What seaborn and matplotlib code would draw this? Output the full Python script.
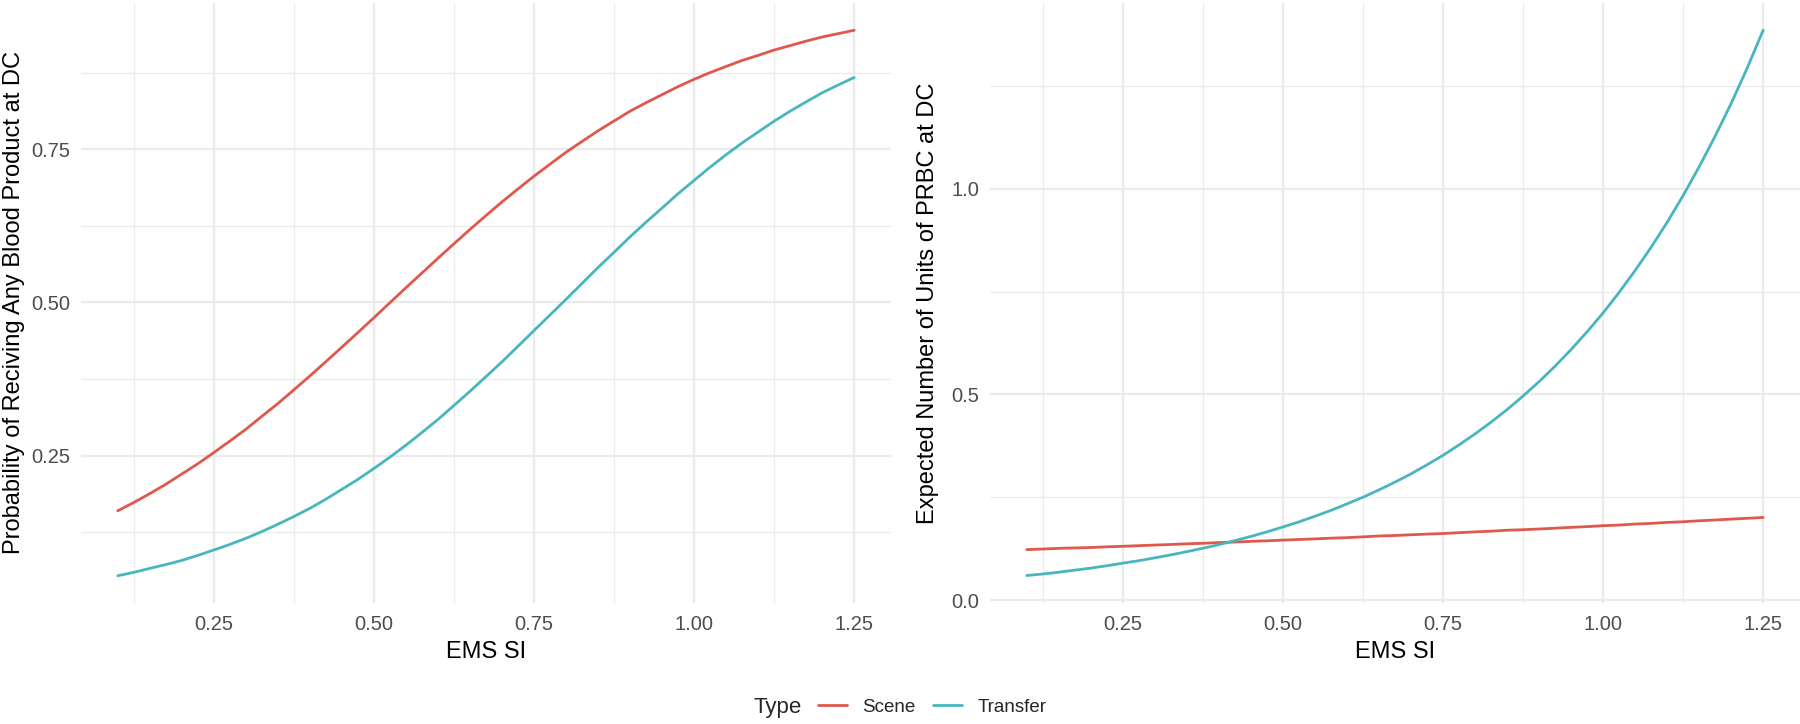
import numpy as np
import pandas as pd
import matplotlib
matplotlib.use("Agg")
import matplotlib.pyplot as plt
from matplotlib.ticker import FixedLocator, FormatStrFormatter
from matplotlib.lines import Line2D
import seaborn as sns

# ---------------- data ----------------
ems_si = [0.100, 0.125, 0.150, 0.175, 0.200, 0.225, 0.250, 0.275, 0.300, 0.325,
          0.350, 0.375, 0.400, 0.425, 0.450, 0.475, 0.500, 0.525, 0.550, 0.575,
          0.600, 0.625, 0.650, 0.675, 0.700, 0.725, 0.750, 0.775, 0.800, 0.825,
          0.850, 0.875, 0.900, 0.925, 0.950, 0.975, 1.000, 1.025, 1.050, 1.075,
          1.100, 1.125, 1.150, 1.175, 1.200, 1.225, 1.250]

prob_scene = [0.160, 0.1735, 0.188, 0.2033, 0.220, 0.2367, 0.255, 0.2737, 0.293, 0.3141,
              0.335, 0.3574, 0.380, 0.4033, 0.427, 0.4509, 0.475, 0.4995, 0.524, 0.5480,
              0.572, 0.5957, 0.619, 0.6417, 0.664, 0.6851, 0.706, 0.7255, 0.745, 0.7626,
              0.780, 0.7960, 0.812, 0.8258, 0.839, 0.8521, 0.864, 0.8750, 0.885, 0.8948,
              0.903, 0.9118, 0.919, 0.9263, 0.933, 0.9385, 0.944]
prob_transfer = [0.054, 0.0595, 0.066, 0.0722, 0.079, 0.0872, 0.096, 0.1051, 0.115, 0.1261,
                 0.138, 0.1506, 0.164, 0.1789, 0.195, 0.2112, 0.229, 0.2475, 0.267, 0.2878,
                 0.309, 0.3318, 0.355, 0.3789, 0.403, 0.4285, 0.454, 0.4795, 0.505, 0.5310,
                 0.557, 0.5818, 0.607, 0.6309, 0.654, 0.6774, 0.699, 0.7207, 0.741, 0.7602,
                 0.778, 0.7957, 0.812, 0.8272, 0.842, 0.8547, 0.867]

units_scene = [0.123, 0.1243, 0.126, 0.127, 0.128, 0.1297, 0.131, 0.1325, 0.134, 0.1354,
               0.137, 0.1383, 0.140, 0.1413, 0.143, 0.1443, 0.146, 0.1475, 0.149, 0.1507,
               0.152, 0.1539, 0.156, 0.1572, 0.159, 0.1606, 0.162, 0.1641, 0.166, 0.1677,
               0.170, 0.1713, 0.173, 0.1750, 0.177, 0.1788, 0.181, 0.1826, 0.185, 0.1866,
               0.189, 0.1906, 0.193, 0.1948, 0.197, 0.1990, 0.201]
units_transfer = [0.060, 0.0637, 0.068, 0.0730, 0.078, 0.0837, 0.090, 0.0960, 0.103, 0.1101,
                  0.118, 0.1262, 0.135, 0.1447, 0.155, 0.1660, 0.178, 0.1903, 0.204, 0.2182,
                  0.234, 0.2502, 0.268, 0.2869, 0.307, 0.3290, 0.352, 0.3773, 0.404, 0.4326,
                  0.463, 0.4961, 0.531, 0.5687, 0.609, 0.6522, 0.698, 0.7478, 0.801, 0.8575,
                  0.918, 0.9832, 1.053, 1.1275, 1.207, 1.2928, 1.385]

types = ["Scene", "Transfer"]
x_ticks = [0.25, 0.50, 0.75, 1.00, 1.25]
left_y_ticks = [0.25, 0.50, 0.75]
right_y_ticks = [0.0, 0.5, 1.0]

left_ylabel = "Probability of Reciving Any Blood Product at DC"
right_ylabel = "Expected Number of Units of PRBC at DC"
xlabel = "EMS SI"

# ---------------- frames ----------------
n = len(ems_si)
df_left = pd.DataFrame({
    "EMS SI": ems_si * 2,
    "value": prob_scene + prob_transfer,
    "Type": [types[0]] * n + [types[1]] * n,
})
df_right = pd.DataFrame({
    "EMS SI": ems_si * 2,
    "value": units_scene + units_transfer,
    "Type": [types[0]] * n + [types[1]] * n,
})

# ---------------- style ----------------
sns.set_style("white")
plt.rcParams["font.family"] = ["Liberation Sans", "DejaVu Sans"]

palette = {"Scene": "#E0584C", "Transfer": "#48B6BE"}
grid_col = "#EBEBEB"

fig = plt.figure(figsize=(18, 7.24), dpi=100)
ax1 = fig.add_axes([81 / 1800, 121 / 724, 810 / 1800, 600 / 724])
ax2 = fig.add_axes([990 / 1800, 121 / 724, 810 / 1800, 600 / 724])


def style_axis(ax, df, yticks, ylim, fmt, ylabel, ylabelpad):
    sns.lineplot(data=df, x="EMS SI", y="value", hue="Type", palette=palette,
                 ax=ax, linewidth=2.0, legend=False, errorbar=None)
    xmin, xmax = min(ems_si), max(ems_si)
    ex = (xmax - xmin) * 0.05
    ax.set_xlim(xmin - ex, xmax + ex)
    ax.set_ylim(*ylim)
    ax.xaxis.set_major_locator(FixedLocator(x_ticks))
    xt = np.array(x_ticks)
    ax.xaxis.set_minor_locator(FixedLocator([0.125] + list(xt[:-1] + 0.125)))
    yt = np.array(yticks)
    step = yt[1] - yt[0]
    ax.yaxis.set_major_locator(FixedLocator(yticks))
    ax.yaxis.set_minor_locator(FixedLocator(list(np.concatenate([yt - step / 2, [yt[-1] + step / 2]]))))
    ax.xaxis.set_major_formatter(FormatStrFormatter("%.2f"))
    ax.yaxis.set_major_formatter(FormatStrFormatter(fmt))
    ax.grid(True, which="major", color=grid_col, linewidth=1.7)
    ax.grid(True, which="minor", color=grid_col, linewidth=0.9)
    ax.set_axisbelow(True)
    for s in ax.spines.values():
        s.set_visible(False)
    ax.tick_params(which="both", length=0)
    ax.tick_params(axis="x", labelsize=14.5, labelcolor="#4D4D4D", pad=9)
    ax.tick_params(axis="y", labelsize=14.5, labelcolor="#4D4D4D", pad=8)
    ax.set_xlabel(xlabel, fontsize=17, color="black", labelpad=5)
    ax.set_ylabel(ylabel, fontsize=17, color="black", labelpad=ylabelpad)


style_axis(ax1, df_left, left_y_ticks, (0.0095, 0.9885), "%.2f", left_ylabel, 4)
style_axis(ax2, df_right, right_y_ticks, (-0.0068, 1.451), "%.1f", right_ylabel, 9)

# ---------------- legend ----------------
handles = [Line2D([], [], color=palette[t], linewidth=2.0) for t in types]
fig.text(753 / 1800, 17 / 724, "Type", fontsize=16, ha="left", va="center")
fig.legend(handles, types, loc="center left", bbox_to_anchor=(818 / 1800, 17 / 724),
           ncol=2, frameon=False, fontsize=13.5, handlelength=1.55,
           handletextpad=0.8, columnspacing=0.95, borderpad=0, borderaxespad=0)

fig.savefig("out.png", dpi=100, facecolor="white")
